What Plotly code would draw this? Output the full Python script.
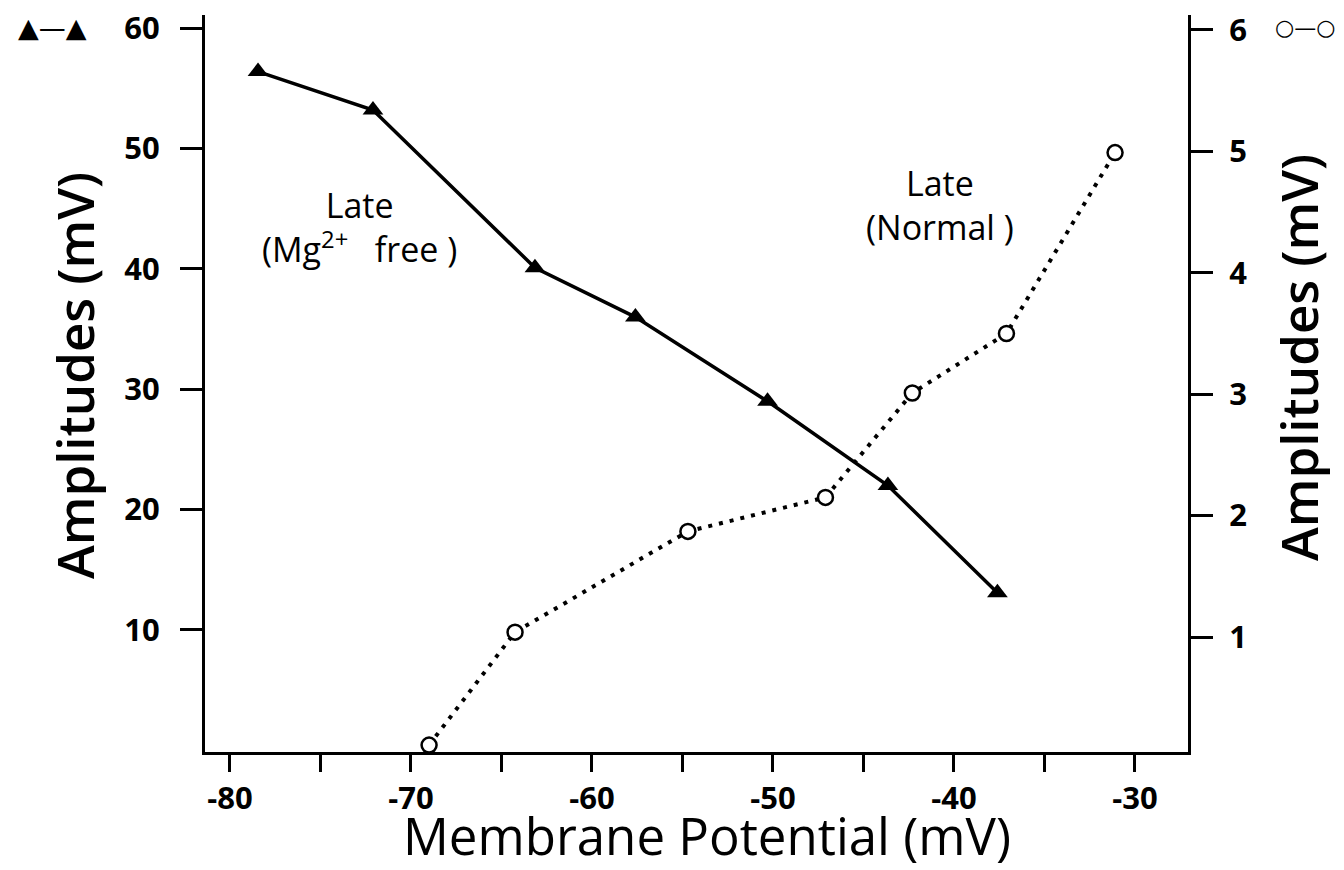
import plotly.graph_objects as go

# Late response, Mg2+-free medium (left axis, mV)
mg_free_potential = [-78.45, -72.1, -63.15, -57.6, -50.3, -43.65, -37.6]
mg_free_amplitude = [56.4, 53.2, 40.1, 36.0, 29.0, 22.0, 13.1]

# Late response, normal medium (right axis, mV)
normal_potential = [-69.0, -64.25, -54.7, -47.1, -42.3, -37.1, -31.1]
normal_amplitude = [0.11, 1.04, 1.87, 2.15, 3.01, 3.5, 4.99]

x_tickvals = [-80, -70, -60, -50, -40, -30]
x_ticktext = ["-80", "-70", "-60", "-50", "-40", "-30"]
x_minor_tickvals = [-75, -65, -55, -45, -35]
left_tickvals = [10, 20, 30, 40, 50, 60]
right_tickvals = [1, 2, 3, 4, 5, 6]

W, H = 1344, 870
L, R, T, B = 205, 156, 15, 118
PW, PH = W - L - R, H - T - B


def px(x, y):
    """Pixel position on the page -> paper coordinates."""
    return (x - L) / PW, (H - B - y) / PH


FONT = "Open Sans"
INK = "black"

fig = go.Figure()

fig.add_trace(go.Scatter(
    x=mg_free_potential, y=mg_free_amplitude, yaxis="y",
    mode="lines+markers",
    line=dict(color=INK, width=3.5),
    marker=dict(symbol="triangle-up", size=18, color=INK),
    showlegend=False,
))

fig.add_trace(go.Scatter(
    x=normal_potential, y=normal_amplitude, yaxis="y2",
    mode="lines+markers",
    line=dict(color=INK, width=4, dash="4px,7px"),
    marker=dict(symbol="circle", size=15, color="white",
                line=dict(color=INK, width=2.5)),
    showlegend=False,
))

axis_common = dict(
    showline=True, linecolor=INK, linewidth=3,
    ticks="outside", tickcolor=INK, tickwidth=3,
    showgrid=False, zeroline=False,
    tickfont=dict(family=FONT, size=31, color=INK, weight=700),
)

fig.update_layout(
    width=W, height=H,
    margin=dict(l=L, r=R, t=T, b=B, autoexpand=False),
    paper_bgcolor="white", plot_bgcolor="white",
    xaxis=dict(
        range=[-81.38, -27.07], tickvals=x_tickvals, ticktext=x_ticktext,
        ticklen=17, ticklabelstandoff=0,
        minor=dict(tickvals=x_minor_tickvals, ticks="outside", ticklen=17,
                   tickwidth=3, tickcolor=INK, showgrid=False),
        **axis_common,
    ),
    yaxis=dict(
        range=[-0.14, 61.1], tickvals=left_tickvals,
        ticklen=22, ticklabelstandoff=14, **axis_common,
    ),
    yaxis2=dict(
        range=[0.053, 6.123], tickvals=right_tickvals,
        overlaying="y", side="right",
        ticklen=22, ticklabelstandoff=10, **axis_common,
    ),
)

annotations = []


def add_text(text, x, y, size, weight=400, angle=0, family=FONT):
    ax, ay = px(x, y)
    annotations.append(dict(
        text=text, x=ax, y=ay, xref="paper", yref="paper",
        xanchor="center", yanchor="middle", showarrow=False,
        textangle=angle,
        font=dict(family=family, size=size, color=INK, weight=weight),
    ))


# axis titles
add_text("Membrane Potential (mV)", 707, 835, 51)
add_text("Amplitudes (mV)", 74, 376, 51, weight=600, angle=-90)
add_text("Amplitudes (mV)", 1298, 358, 51, weight=600, angle=-90)

# curve labels
add_text("Late<br>(Mg<sup>2+</sup>&nbsp;&nbsp;&nbsp;free )", 359, 227, 34)
add_text("Late<br>(Normal )", 940, 205, 34)

# series keys beside the axes
add_text("▲—▲", 52, 27, 27, family="DejaVu Sans")
add_text("○—○", 1305, 27, 22, family="DejaVu Sans")

fig.update_layout(annotations=annotations)

fig.write_html("out.html")
